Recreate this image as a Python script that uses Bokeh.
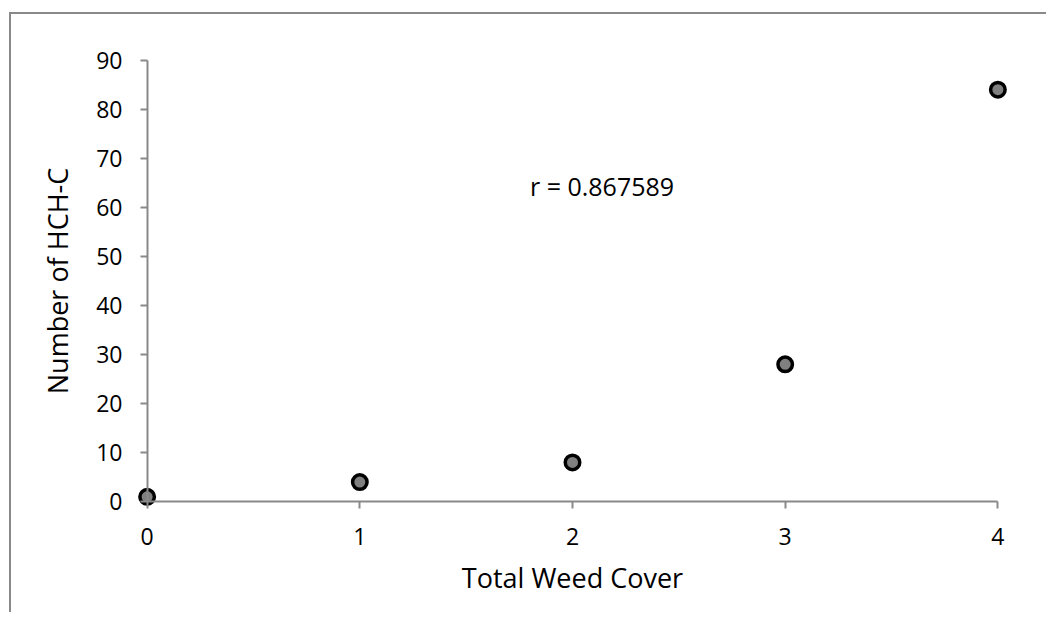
from bokeh.plotting import figure
from bokeh.models import Range1d, Label, FixedTicker, LinearAxis
from bokeh.embed import file_html
from bokeh.resources import INLINE

# data
weed_cover = [0, 1, 2, 3, 4]
hch_count = [1, 4, 8, 28, 84]
x_ticks = [0, 1, 2, 3, 4]
y_ticks = [0, 10, 20, 30, 40, 50, 60, 70, 80, 90]
r_text = "r = 0.867589"
x_title = "Total Weed Cover"
y_title = "Number of HCH-C"

FONT = "Open Sans"
AX = "#898989"

p = figure(width=1046, height=612, output_backend="svg", toolbar_location=None,
           x_range=Range1d(-0.05, 4.05), y_range=Range1d(-2, 92),
           min_border_left=136, min_border_right=38, min_border_top=50, min_border_bottom=101)
p.outline_line_color = None
p.xgrid.visible = False
p.ygrid.visible = False
p.background_fill_alpha = 0
p.border_fill_alpha = 0
p.styles = {"background": ("linear-gradient(#898989,#898989) 9px 12px / 2px 100% no-repeat, "
                           "linear-gradient(#898989,#898989) 9px 12px / 100% 2px no-repeat, white")}

# label-only axes at the frame edges
for ax in (p.xaxis[0], p.yaxis[0]):
    ax.axis_line_color = None
    ax.major_tick_line_color = None
    ax.major_tick_in = 0
    ax.major_tick_out = 0
    ax.minor_tick_line_color = None
    ax.major_label_text_font = FONT
    ax.major_label_text_font_size = "23px"
    ax.major_label_text_color = "black"
    ax.axis_label_text_font = FONT
    ax.axis_label_text_font_size = "27px"
    ax.axis_label_text_font_style = "normal"
    ax.axis_label_text_color = "black"

p.xaxis.ticker = FixedTicker(ticks=x_ticks)
p.yaxis.ticker = FixedTicker(ticks=y_ticks)
p.xaxis.major_label_standoff = 16
p.yaxis.major_label_standoff = 14
p.xaxis.axis_label = x_title
p.yaxis.axis_label = y_title
p.xaxis.axis_label_standoff = 11
p.yaxis.axis_label_standoff = 17

# axis lines and ticks at the zero lines
for loc, ticks, bounds in (("below", x_ticks, (0, 4)), ("left", y_ticks, (0, 90))):
    a = LinearAxis(fixed_location=0, ticker=FixedTicker(ticks=ticks), bounds=bounds,
                   axis_line_color=AX, axis_line_width=2,
                   major_tick_line_color=AX, major_tick_line_width=2,
                   major_tick_in=0, major_tick_out=7, minor_tick_line_color=None,
                   major_label_text_alpha=0, major_label_text_font_size="1px",
                   major_label_standoff=0)
    p.add_layout(a, loc)

p.scatter(weed_cover, hch_count, size=14.5, line_width=3.5, line_color="black",
          fill_color="#808080", marker="circle")

p.add_layout(Label(x=1.80, y=64.3, text=r_text, text_font=FONT, text_font_size="25px",
                   text_color="black", text_baseline="middle", text_align="left"))

open("out.html", "w").write(file_html(p, INLINE))
